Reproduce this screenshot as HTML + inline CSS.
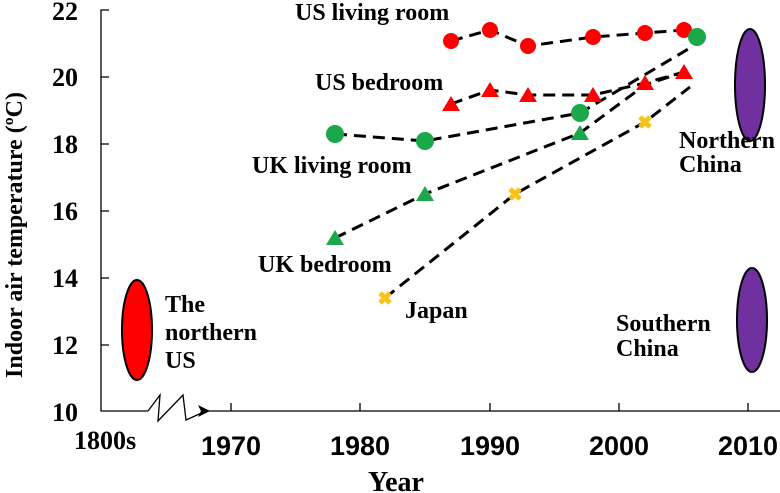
<!DOCTYPE html>
<html><head><meta charset="utf-8"><style>
html,body{margin:0;padding:0;background:#fff;}
svg{display:block;}
.s{font-family:"Liberation Serif",serif;font-weight:bold;}
.a{font-family:"Liberation Sans",sans-serif;font-weight:bold;}
</style></head><body>
<svg width="780" height="493" viewBox="0 0 780 493" xmlns="http://www.w3.org/2000/svg">
<g stroke="#000" stroke-width="1.3" fill="none">
<path d="M109,10 H101 V411 H148"/>
<path d="M101,77 H109 M101,144 H109 M101,211 H109 M101,278 H109 M101,345 H109"/>
<path d="M148,411 L160,395 L158,421 L183,395 L186,420 L206,411"/>
<path d="M206,411 H780"/>
<path d="M231,411 V403 M360,411 V403 M490,411 V403 M619,411 V403 M748,411 V403"/>
</g>
<path d="M198,405 L210,411 L198,417 L201,411Z" fill="#000"/>
<g class="s" font-size="26" text-anchor="end" fill="#000">
<text x="78" y="20">22</text><text x="78" y="86">20</text><text x="78" y="153">18</text>
<text x="78" y="220">16</text><text x="78" y="287">14</text><text x="78" y="354">12</text><text x="78" y="421">10</text>
</g>
<text class="s" font-size="26" x="74" y="449">1800s</text>
<g class="a" font-size="27" text-anchor="middle">
<text x="231" y="455">1970</text><text x="360" y="455">1980</text><text x="490" y="455">1990</text>
<text x="619" y="455">2000</text><text x="748" y="455">2010</text>
</g>
<text class="s" font-size="28" x="396" y="491" text-anchor="middle">Year</text>
<text class="s" font-size="24" transform="translate(22,235) rotate(-90)" text-anchor="middle">Indoor air temperature (ºC)</text>
<g stroke="#000" stroke-width="3" stroke-dasharray="12,7" fill="none">
<polyline points="451,41 490,30 528,46 593,37 645,33 684,30 697,37"/>
<polyline points="451,104 490,90 528,95 593,95 645,83 684,72"/>
<polyline points="335,134 425,141 580,113 690,48"/>
<polyline points="335,238 425,194 580,133 645,85 684,72"/>
<polyline points="385,298 515,194 645,122 690,87"/>
</g>
<g fill="#f00">
<circle cx="451" cy="41" r="8"/><circle cx="490" cy="30" r="8"/><circle cx="528" cy="46" r="8"/>
<circle cx="593" cy="37" r="8"/><circle cx="645" cy="33" r="8"/><circle cx="684" cy="30" r="8"/>
</g>
<g fill="#1aa84a">
<circle cx="697" cy="37" r="9"/><circle cx="335" cy="134" r="9"/><circle cx="425" cy="141" r="9"/><circle cx="580" cy="113" r="9"/>
<path d="M335,230 L344,245 L326,245Z M425,186 L434,201 L416,201Z M580,125 L589,140 L571,140Z"/>
</g>
<g fill="#f00">
<path d="M451,96 L460,111 L442,111Z M490,82 L499,97 L481,97Z M528,87 L537,102 L519,102Z M593,87 L602,102 L584,102Z M645,75 L654,90 L636,90Z M684,64 L693,79 L675,79Z"/>
</g>
<g stroke="#f7c21c" stroke-width="5">
<path d="M380,293 L390,303 M390,293 L380,303 M510,189 L520,199 M520,189 L510,199 M640,117 L650,127 M650,117 L640,127"/>
</g>
<ellipse cx="137" cy="330" rx="15" ry="50" fill="#f00" stroke="#000" stroke-width="2"/>
<ellipse cx="750" cy="85" rx="15" ry="56" fill="#7030a0" stroke="#000" stroke-width="2"/>
<ellipse cx="752" cy="320" rx="15" ry="52" fill="#7030a0" stroke="#000" stroke-width="2"/>
<g class="s" font-size="24" fill="#000">
<text x="295" y="20">US living room</text>
<text x="315" y="90">US bedroom</text>
<text x="252" y="173">UK living room</text>
<text x="258" y="272">UK bedroom</text>
<text x="405" y="318">Japan</text>
<text x="165" y="312">The</text><text x="165" y="340">northern</text><text x="165" y="368">US</text>
<text x="679" y="148">Northern</text><text x="679" y="172">China</text>
<text x="616" y="331">Southern</text><text x="616" y="356">China</text>
</g>
</svg>
</body></html>
